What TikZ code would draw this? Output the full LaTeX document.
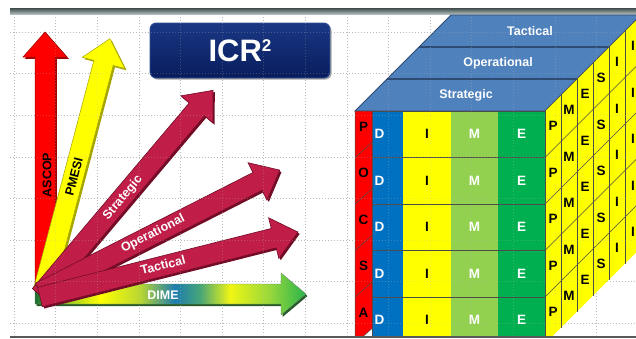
\documentclass[tikz,border=0pt]{standalone}
\usepackage{fontspec}
\setmainfont{Liberation Sans}
\definecolor{crim}{RGB}{192,30,72}
\definecolor{crimdk}{RGB}{115,12,38}
\definecolor{redA}{RGB}{255,0,0}
\definecolor{redDk}{RGB}{160,0,0}
\definecolor{yelA}{RGB}{255,255,0}
\definecolor{yelDk}{RGB}{165,165,0}
\definecolor{topblue}{RGB}{79,129,189}
\definecolor{topline}{RGB}{45,75,115}
\definecolor{dblue}{RGB}{0,112,192}
\definecolor{lgreen}{RGB}{146,208,80}
\definecolor{dgreen}{RGB}{0,176,80}
\definecolor{navyT}{RGB}{26,56,132}
\definecolor{navyB}{RGB}{8,28,92}
\definecolor{navyE}{RGB}{50,80,150}
\definecolor{dA}{RGB}{30,110,50}
\definecolor{dB}{RGB}{150,200,40}
\definecolor{dC}{RGB}{255,255,0}
\definecolor{dD}{RGB}{185,215,50}
\definecolor{dE}{RGB}{30,125,175}
\definecolor{dF}{RGB}{70,165,120}
\definecolor{dG}{RGB}{240,245,20}
\definecolor{dH}{RGB}{150,215,60}
\definecolor{dI}{RGB}{40,180,75}
\definecolor{dimeDk}{RGB}{40,90,40}
\definecolor{barT}{RGB}{60,75,75}
\definecolor{barB}{RGB}{175,185,185}
\pgfdeclarehorizontalshading{dime}{100bp}{color(0bp)=(dA); color(25bp)=(dA); color(30.5bp)=(dB); color(37bp)=(dC); color(44.4bp)=(dD); color(50.8bp)=(dE); color(55.4bp)=(dF); color(61bp)=(dG); color(68.4bp)=(dH); color(75bp)=(dI); color(100bp)=(dI)}
\newcommand\fatarrow[7]{%
  \path[#7, shift={(#1,#2)}, rotate=#3] (0,-#5) -- (#4-25,-#5) -- (#4-25,-#6) -- (#4,0) -- (#4-25,#6) -- (#4-25,#5) -- (0,#5) -- cycle;}
\tikzset{
  gridline/.style={gray!55, line width=0.6pt, dash pattern=on 0.8pt off 2.2pt},
  arrlbl/.style={font=\fontsize{12.5}{13}\selectfont\bfseries, inner sep=0pt},
  toplbl/.style={font=\fontsize{12.5}{13}\selectfont\bfseries, text=white, inner sep=0pt},
  cubeltr/.style={font=\fontsize{13.5}{13.5}\selectfont\bfseries, inner sep=0pt},
  cellline/.style={black!70, line width=0.5pt},
}
\begin{document}
\begin{tikzpicture}[x=1pt,y=-1pt]
\useasboundingbox (0,0) rectangle (636,338);
\fill[white] (0,0) rectangle (636,338);
% grid
\foreach \i in {0,...,15} \draw[gridline] ({14+41.6*\i},14) -- ({14+41.6*\i},335);
\foreach \i in {0,...,7} \draw[gridline] (10,{32+41.6*\i}) -- (636,{32+41.6*\i});
% top bar
\shade[top color=barT, bottom color=barB] (10,8) rectangle (636,14);
% title box
\fill[black!35, rounded corners=6pt] (151.5,24.5) rectangle (331.5,79.5);
\node[draw=navyE, line width=0.8pt, rounded corners=6pt, top color=navyT, bottom color=navyB,
      minimum width=180pt, minimum height=55pt, inner sep=0pt, text=white,
      font=\fontsize{31}{31}\selectfont\bfseries] (title) at (240,50.5)
      {ICR\raisebox{9.5pt}{\fontsize{17}{17}\selectfont 2}};
% arrows: red ASCOP
\fatarrow{46.8}{293.8}{90}{260}{10}{22}{fill=redDk}
\fatarrow{45}{292}{90}{260}{10}{22}{fill=redA, draw=redDk, line width=0.5pt}
% yellow PMESI
\fatarrow{44.8}{293.8}{75.2}{262}{10}{22}{fill=yelDk}
\fatarrow{43}{292}{75.2}{262}{10}{22}{fill=yelA, draw=yelDk, line width=0.5pt}
% DIME
\fatarrow{36.5}{296}{0}{271}{10}{21}{fill=dimeDk}
\fatarrow{35}{294}{0}{271}{10}{21}{shading=dime, draw=dimeDk!70, line width=0.4pt}
% crimson arrows
\fatarrow{41.8}{296.8}{49.8}{268}{10}{21}{fill=crimdk}
\fatarrow{40}{295}{49.8}{268}{10}{21}{fill=crim, draw=crimdk, line width=0.6pt}
\fatarrow{41.8}{293.8}{26.95}{269}{10}{21}{fill=crimdk}
\fatarrow{40}{292}{26.95}{269}{10}{21}{fill=crim, draw=crimdk, line width=0.6pt}
\fatarrow{41.8}{298.8}{14.14}{266}{10}{21}{fill=crimdk}
\fatarrow{40}{297}{14.14}{266}{10}{21}{fill=crim, draw=crimdk, line width=0.6pt}
% arrow labels
\node[arrlbl, rotate=90, text=black] (lAscop) at (47,175) {ASCOP};
\node[arrlbl, rotate=75.2, text=black] (lPmesi) at (74,177) {PMESI};
\node[arrlbl, rotate=49.8, text=white] (lStrat) at (123,198) {Strategic};
\node[arrlbl, rotate=26.95, text=white] (lOper) at (153,234) {Operational};
\node[arrlbl, rotate=14.14, text=white] (lTact) at (163,265) {Tactical};
\node[arrlbl, text=white] (lDime) at (163,295) {DIME};
% cube
\begin{scope}
\clip (340,0) rectangle (636,335.5);
% top face
\filldraw[fill=topblue, draw=topline, line width=0.8pt] (355,111) -- (545,111) -- (641,15) -- (451,15) -- cycle;
\draw[topline, line width=1.2pt] (387,79) -- (577,79);
\draw[topline, line width=1.2pt] (419,47) -- (609,47);
\node[toplbl] (tS) at (466,95) {Strategic};
\node[toplbl] (tO) at (498,63) {Operational};
\node[toplbl] (tT) at (530,31) {Tactical};
% side face
\fill[yelA] (545,111) -- (641,15) -- (641,247.5) -- (545,343.5) -- cycle;
\foreach \j in {1,...,5} \draw[cellline] ({545+16*\j},{111-16*\j}) -- ({545+16*\j},{343.5-16*\j});
\foreach \k in {1,...,4} \draw[cellline] (545,{111+46.5*\k}) -- (641,{111+46.5*\k-96});
\draw[cellline] (545,111) -- (641,15);
\foreach \L [count=\j from 0] in {P,M,E,S,I,I}
  \foreach \k in {0,...,4}
    \node[cubeltr] (s-\j-\k) at ({553+16*\j},{134.25+46.5*\k-8-16*\j}) {\L};
% front face columns
\fill[dblue] (372,111) rectangle (403,343.5);
\fill[yelA] (403,111) rectangle (451,343.5);
\fill[lgreen] (451,111) rectangle (498,343.5);
\fill[dgreen] (498,111) rectangle (545,343.5);
\foreach \k in {1,...,4} \draw[cellline] (372,{111+46.5*\k}) -- (545,{111+46.5*\k});
\draw[cellline] (372,111) -- (372,343.5);
\draw[cellline] (545,111) -- (545,343.5);
\draw[cellline] (372,111) -- (545,111);
% red strip
\filldraw[fill=redA, draw=black!70, line width=0.5pt] (355,111) -- (372,111) -- (372,328.5) -- (355,343.5) -- cycle;
\foreach \k in {1,...,4} \draw[cellline] (355,{111+46.5*\k}) -- (372,{111+46.5*\k-15});
\foreach \L [count=\k from 0] in {P,O,C,S,A}
  \node[cubeltr, text=black] (r-\k) at (363.5,{134.25+46.5*\k-7.5}) {\L};
\foreach \k in {0,...,4} {
  \node[cubeltr, text=white] (d-\k) at (379.5,{134.25+46.5*\k}) {D};
  \node[cubeltr, text=black] (i-\k) at (427,{134.25+46.5*\k}) {I};
  \node[cubeltr, text=white] (m-\k) at (474.5,{134.25+46.5*\k}) {M};
  \node[cubeltr, text=white] (e-\k) at (521.5,{134.25+46.5*\k}) {E};
}
\end{scope}
% faint grid over everything
\begin{scope}[opacity=0.3]
\foreach \i in {0,...,15} \draw[gridline] ({14+41.6*\i},14) -- ({14+41.6*\i},335);
\foreach \i in {0,...,7} \draw[gridline] (10,{32+41.6*\i}) -- (636,{32+41.6*\i});
\end{scope}
\fill[black!65] (10,335.5) rectangle (636,338);
\end{tikzpicture}
\end{document}
